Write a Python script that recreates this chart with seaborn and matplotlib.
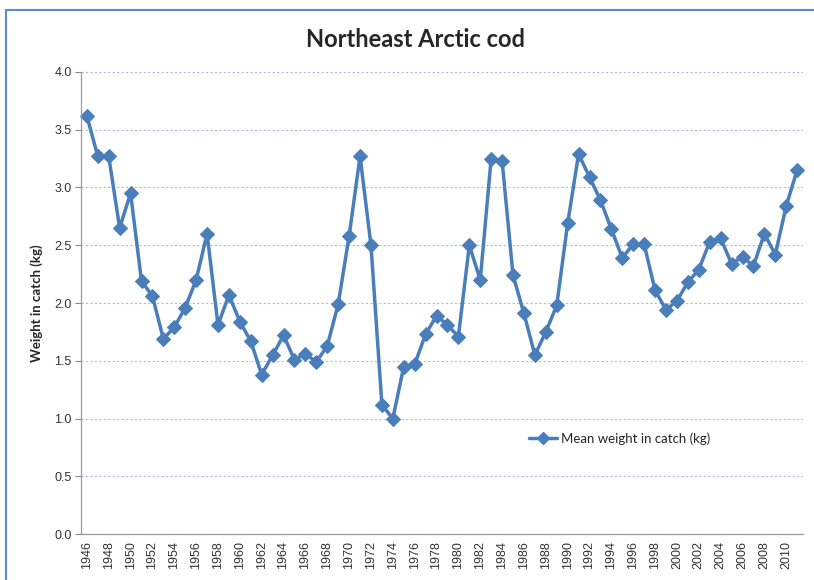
import numpy as np
import pandas as pd
import seaborn as sns
import matplotlib.pyplot as plt
from matplotlib.patches import Rectangle
from matplotlib.lines import Line2D

years = list(range(1946, 2012))
mean_weight = [3.62, 3.27, 3.27, 2.65, 2.95, 2.19, 2.06, 1.69, 1.79, 1.96,
               2.20, 2.60, 1.81, 2.07, 1.84, 1.67, 1.38, 1.55, 1.72, 1.51,
               1.56, 1.49, 1.63, 1.99, 2.58, 3.27, 2.50, 1.12, 1.00, 1.45,
               1.47, 1.73, 1.89, 1.81, 1.71, 2.50, 2.20, 3.25, 3.23, 2.24,
               1.91, 1.55, 1.75, 1.98, 2.69, 3.29, 3.09, 2.89, 2.64, 2.39,
               2.51, 2.51, 2.11, 1.94, 2.02, 2.18, 2.29, 2.53, 2.56, 2.34,
               2.40, 2.32, 2.60, 2.42, 2.84, 3.15]
yticks = [0.0, 0.5, 1.0, 1.5, 2.0, 2.5, 3.0, 3.5, 4.0]

df = pd.DataFrame({'year': years, 'weight': mean_weight})

sns.set_style('white')
blue = '#4A7EBB'

fig = plt.figure(figsize=(8.14, 5.8), dpi=100)
ax = fig.add_axes([0.1, 0.079, 0.886, 0.797])

sns.lineplot(data=df, x='year', y='weight', ax=ax, color=blue, linewidth=2.5,
             marker='D', markersize=7.5, markeredgecolor=blue, legend=False,
             clip_on=False)

ax.set_xlim(years[0] - 0.5, years[-1] + 0.5)
ax.set_ylim(0, 4.0)
ax.set_yticks(yticks)
ax.set_yticklabels([f'{v:.1f}' for v in yticks], fontsize=9, color='#333333',
                   family='Liberation Sans')
ax.yaxis.grid(True, linestyle=(0, (2, 2)), color='#A9BFDC', linewidth=0.8)
ax.xaxis.grid(False)

# category axis: labels on every other year, tick marks between categories
ax.set_xticks(years[::2])
ax.set_xticklabels([str(y) for y in years[::2]], rotation=90, fontsize=9,
                   color='#333333', family='Liberation Sans')
ax.set_xticks(np.arange(years[0] - 0.5, years[-1] + 1), minor=True)
ax.tick_params(axis='x', which='major', length=0, pad=5)
ax.tick_params(axis='x', which='minor', length=4, color='#888888', width=0.8)
ax.tick_params(axis='y', length=4, color='#888888', width=0.8, left=True, pad=3)

for side in ['top', 'right']:
    ax.spines[side].set_visible(False)
for side in ['left', 'bottom']:
    ax.spines[side].set_color('#999999')
    ax.spines[side].set_linewidth(0.9)

ax.set_xlabel('')
ax.set_ylabel('Weight in catch (kg)', fontsize=9.5, fontweight='bold',
              family='Lato', labelpad=8)
fig.text(0.51, 0.932, 'Northeast Arctic cod', ha='center', va='center',
         fontsize=17, fontweight='bold', family='Lato')

handle = Line2D([], [], color=blue, linewidth=2.5, marker='D', markersize=6)
ax.legend([handle], ['Mean weight in catch (kg)'], loc='center left',
          bbox_to_anchor=(0.604, 0.207), frameon=False,
          handlelength=2.1, handletextpad=0.3,
          prop={'family': 'Lato', 'size': 9.5})

fig.patches.append(Rectangle((6 / 814, -0.05), 1.2, 1 - 10 / 580 + 0.05,
                             transform=fig.transFigure, fill=False,
                             edgecolor='#5B8BC9', linewidth=1.5))

fig.savefig('out.png', dpi=100)
